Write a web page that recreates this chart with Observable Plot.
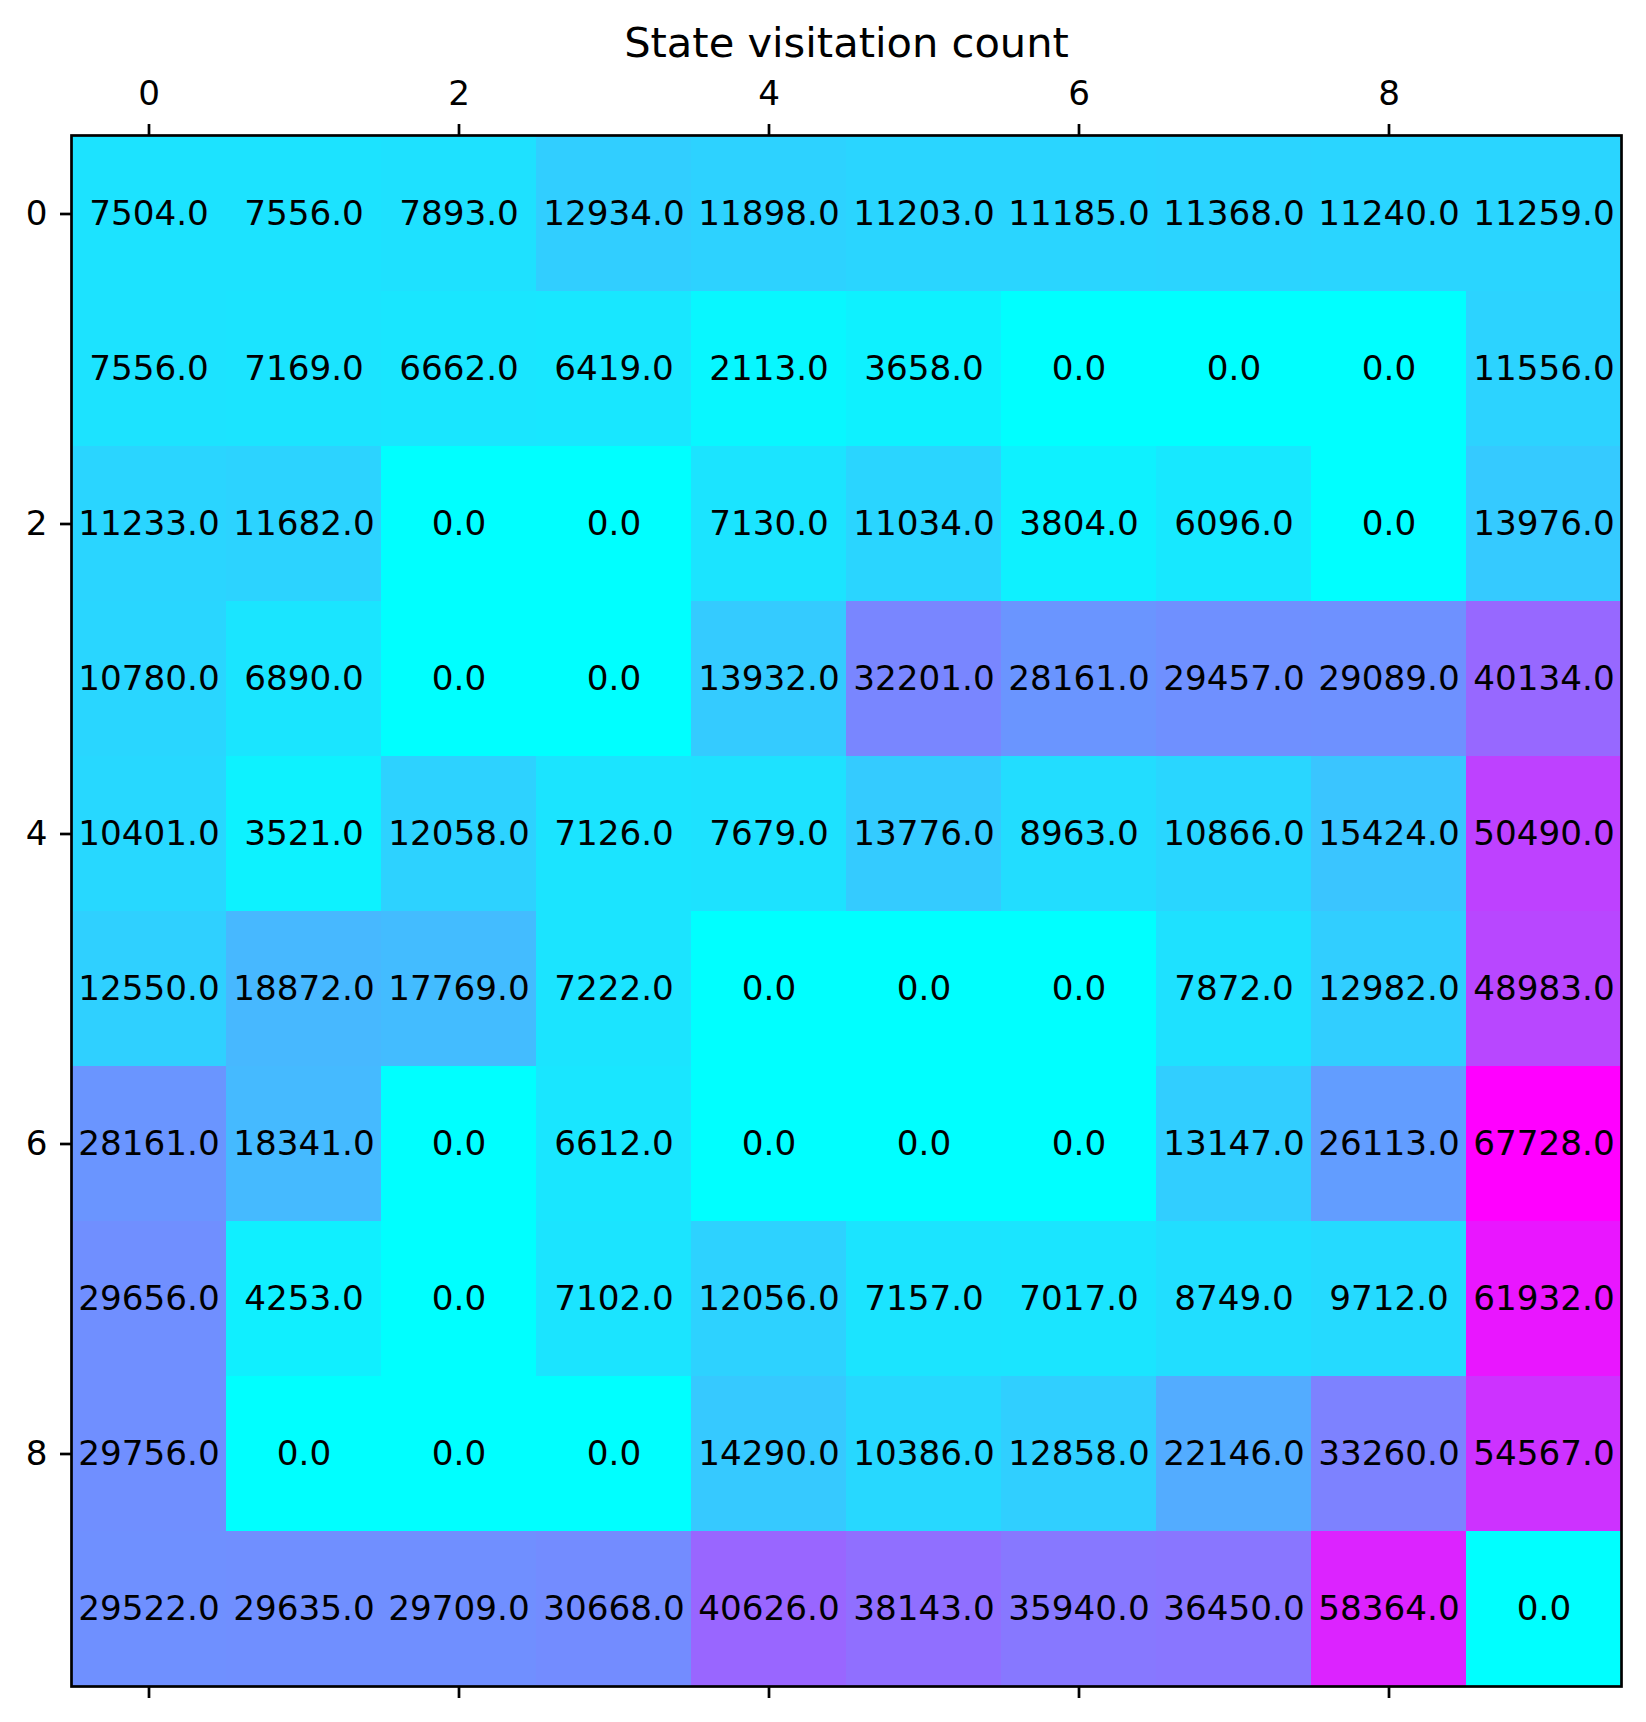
<!DOCTYPE html>
<html>
<head>
<meta charset="utf-8">
<script src="https://cdn.jsdelivr.net/npm/d3@7"></script>
<script src="https://cdn.jsdelivr.net/npm/@observablehq/plot@0.6"></script>
<style>
  html, body { margin: 0; padding: 0; background: #fff; }
</style>
</head>
<body>
<div id="chart"></div>
<script>
const title = "State visitation count";
const cols = [0, 1, 2, 3, 4, 5, 6, 7, 8, 9];
const rowsIdx = [0, 1, 2, 3, 4, 5, 6, 7, 8, 9];
const tickValues = [0, 2, 4, 6, 8];

const row0 = [7504, 7556, 7893, 12934, 11898, 11203, 11185, 11368, 11240, 11259];
const row1 = [7556, 7169, 6662, 6419, 2113, 3658, 0, 0, 0, 11556];
const row2 = [11233, 11682, 0, 0, 7130, 11034, 3804, 6096, 0, 13976];
const row3 = [10780, 6890, 0, 0, 13932, 32201, 28161, 29457, 29089, 40134];
const row4 = [10401, 3521, 12058, 7126, 7679, 13776, 8963, 10866, 15424, 50490];
const row5 = [12550, 18872, 17769, 7222, 0, 0, 0, 7872, 12982, 48983];
const row6 = [28161, 18341, 0, 6612, 0, 0, 0, 13147, 26113, 67728];
const row7 = [29656, 4253, 0, 7102, 12056, 7157, 7017, 8749, 9712, 61932];
const row8 = [29756, 0, 0, 0, 14290, 10386, 12858, 22146, 33260, 54567];
const row9 = [29522, 29635, 29709, 30668, 40626, 38143, 35940, 36450, 58364, 0];

const grid = [row0, row1, row2, row3, row4, row5, row6, row7, row8, row9];
const data = [];
rowsIdx.forEach(r => cols.forEach(c => data.push({row: r, col: c, value: grid[r][c]})));
const vmax = d3.max(data, d => d.value);
const vmin = d3.min(data, d => d.value);

const FS = 34.2;
const SW = 2.7;

const chart = Plot.plot({
  width: 1646,
  height: 1722,
  marginLeft: 71,
  marginRight: 25,
  marginTop: 135,
  marginBottom: 36,
  style: {fontFamily: "DejaVu Sans", fontSize: FS + "px", background: "white", color: "black"},
  x: {domain: cols, padding: 0, label: null},
  y: {domain: rowsIdx, padding: 0, label: null},
  color: {type: "linear", domain: [vmin, vmax], range: ["#00ffff", "#ff00ff"], interpolate: "rgb"},
  marks: [
    Plot.cell(data, {x: "col", y: "row", fill: "value", inset: 0}),
    Plot.text(data, {x: "col", y: "row", text: d => d.value.toFixed(1), fill: "black", fontSize: FS}),
    Plot.frame({stroke: "black", strokeWidth: SW}),
    Plot.axisX({anchor: "top", ticks: tickValues, tickSize: 12, tickPadding: 19, strokeWidth: SW, fontSize: FS, label: null}),
    Plot.axisX({anchor: "bottom", ticks: tickValues, tickSize: 12, tickFormat: () => "", strokeWidth: SW, label: null}),
    Plot.axisY({anchor: "left", ticks: tickValues, tickSize: 11, tickPadding: 13, strokeWidth: SW, fontSize: FS, label: null}),
    Plot.text([title], {frameAnchor: "top", dy: -92, text: d => d, fontSize: 41.6, lineAnchor: "middle", fill: "black"})
  ]
});
document.getElementById("chart").appendChild(chart);
</script>
</body>
</html>
